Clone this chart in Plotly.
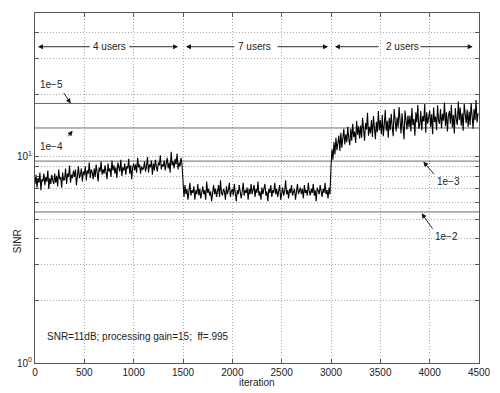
import math
import plotly.graph_objects as go

# ---------------- data ----------------
step = 10
seg1_sinr = [  # 4 users, iterations 0..1490
    7.4, 8.2, 7.1, 7.9, 7.5, 8.4, 6.9, 7.8, 7.6, 8.3,
    7.3, 8.0, 7.6, 8.6, 7.0, 7.9, 7.4, 8.2, 7.7, 7.4,
    8.3, 7.5, 8.1, 7.2, 8.7, 7.8, 8.0, 7.1, 8.4, 7.7,
    7.8, 8.8, 7.4, 8.3, 8.0, 9.1, 7.5, 8.2, 7.9, 8.6,
    8.0, 8.7, 7.3, 8.4, 9.0, 7.9, 8.2, 8.8, 7.6, 8.5,
    8.2, 9.0, 7.7, 8.6, 8.3, 9.4, 7.9, 8.7, 8.4, 7.8,
    8.8, 8.0, 9.2, 8.4, 7.6, 8.9, 8.5, 9.5, 8.2, 8.7,
    8.3, 9.1, 8.6, 7.8, 9.3, 8.5, 8.8, 8.0, 9.6, 8.6,
    9.1, 8.3, 8.9, 7.9, 9.4, 8.7, 8.5, 9.7, 8.1, 8.9,
    8.6, 9.3, 8.2, 9.0, 8.8, 9.8, 8.3, 9.1, 7.8, 8.9,
    9.3, 8.6, 9.2, 8.4, 9.9, 8.9, 9.2, 8.3, 9.0, 8.7,
    8.8, 9.5, 8.5, 9.0, 10.0, 8.4, 9.2, 8.9, 9.6, 8.2,
    9.3, 8.6, 9.7, 9.0, 8.5, 9.4, 9.1, 10.2, 8.7, 9.2,
    9.0, 9.6, 8.6, 9.3, 9.9, 8.8, 9.4, 8.4, 10.6, 9.1,
    9.5, 8.8, 9.8, 9.2, 10.4, 8.7, 9.4, 9.0, 9.9, 9.2,
]
seg2_sinr = [  # 7 users, iterations 1500..2990
    6.9, 6.4, 7.3, 6.6, 7.0, 6.2, 6.8, 7.5, 6.5, 6.9,
    6.7, 7.2, 6.2, 6.9, 6.6, 7.4, 6.5, 7.0, 6.3, 6.8,
    7.2, 6.6, 6.9, 6.2, 7.6, 6.7, 7.0, 6.5, 6.8, 6.1,
    6.9, 7.3, 6.6, 7.0, 6.4, 6.8, 7.3, 6.4, 7.7, 6.7,
    6.5, 7.0, 6.8, 6.2, 7.2, 6.6, 6.9, 7.5, 6.4, 6.8,
    7.0, 6.5, 7.4, 6.7, 6.1, 6.9, 6.6, 7.3, 6.8, 6.3,
    6.8, 7.5, 6.5, 6.9, 6.7, 7.1, 6.2, 7.0, 6.6, 7.4,
    6.6, 6.9, 7.3, 6.4, 7.0, 6.7, 7.6, 6.5, 6.8, 6.2,
    7.1, 6.6, 6.9, 7.4, 6.5, 6.8, 6.1, 7.0, 6.7, 7.3,
    6.4, 6.9, 6.7, 7.5, 6.6, 7.0, 6.4, 6.8, 7.3, 6.2,
    6.9, 7.1, 6.5, 6.8, 7.7, 6.6, 6.9, 6.3, 7.0, 6.7,
    7.3, 6.5, 6.8, 7.0, 6.2, 6.9, 7.4, 6.6, 6.8, 7.1,
    6.6, 7.0, 6.3, 7.3, 6.7, 6.9, 6.5, 7.5, 6.8, 6.5,
    7.0, 6.7, 7.4, 6.5, 6.9, 6.1, 7.1, 6.8, 6.6, 7.3,
    6.8, 6.4, 7.0, 6.7, 7.5, 6.6, 6.9, 6.3, 7.1, 6.6,
]
seg3_sinr = [  # 2 users, iterations 3000..4490
    9.0, 10.9, 9.7, 11.8, 10.3, 12.4, 10.8, 11.6, 12.7, 10.7,
    13.1, 11.1, 12.6, 13.7, 11.5, 12.9, 11.8, 14.0, 12.3, 11.4,
    13.7, 12.0, 14.5, 12.5, 13.3, 11.7, 15.0, 12.8, 14.1, 12.3,
    14.2, 12.4, 15.5, 13.1, 12.0, 14.6, 13.6, 16.4, 12.7, 14.0,
    13.0, 15.1, 12.5, 15.8, 13.9, 12.2, 14.8, 13.2, 16.7, 13.5,
    15.1, 12.9, 16.0, 12.6, 14.4, 16.9, 13.4, 15.0, 12.4, 15.5,
    13.5, 16.2, 14.1, 12.6, 17.1, 14.6, 13.3, 15.6, 13.9, 17.5,
    14.9, 13.0, 16.3, 14.2, 12.2, 16.8, 14.7, 13.6, 15.9, 14.0,
    15.9, 13.3, 17.3, 14.3, 15.3, 12.7, 16.5, 14.7, 17.9, 13.7,
    14.4, 16.7, 13.5, 15.8, 14.9, 18.1, 13.1, 16.5, 14.5, 15.5,
    16.8, 14.0, 16.1, 12.9, 17.4, 14.8, 15.7, 13.5, 17.8, 15.1,
    14.5, 17.1, 13.8, 16.2, 15.0, 18.4, 14.1, 16.5, 13.3, 15.9,
    16.7, 14.5, 17.9, 13.9, 16.0, 13.0, 17.3, 15.2, 14.3, 18.6,
    15.1, 17.4, 14.2, 16.3, 13.4, 18.1, 15.3, 14.6, 17.0, 14.0,
    16.6, 14.3, 18.3, 15.4, 13.7, 17.1, 15.1, 18.9, 14.7, 16.3,
]
seg_starts = [0, 1500, 3000]

ber_labels = ["1e\u22125", "1e\u22124", "1e\u22123", "1e\u22122"]
ber_sinr = [18.19, 13.83, 9.55, 5.41]

user_labels = ["4 users", "7 users", "2 users"]
user_text_x = [755, 2225, 3720]
user_span = [(30, 570, 940, 1450), (1530, 2037, 2443, 2970), (3040, 3497, 3892, 4436)]
user_y = 34.3

x_ticks = [0, 500, 1000, 1500, 2000, 2500, 3000, 3500, 4000, 4500]
y_ticks = [1, 2, 3, 4, 5, 6, 7, 8, 9, 10, 20, 30, 40, 50]
y_ticktext = ["10<sup>0</sup>", "", "", "", "", "", "", "", "", "10<sup>1</sup>", "", "", "", ""]

note_text = "SNR=11dB; processing gain=15;  ff=.995"

# ---------------- figure ----------------
x_all, y_all = [], []
for start, seg in zip(seg_starts, [seg1_sinr, seg2_sinr, seg3_sinr]):
    x_all += [start + i * step for i in range(len(seg))]
    y_all += seg

FONT = "Liberation Sans, Arial, Helvetica, sans-serif"
TXT = "#222222"

fig = go.Figure()
for v in ber_sinr:
    fig.add_trace(go.Scatter(x=[0, 4500], y=[v, v], mode="lines",
                             line=dict(color="#6a6a6a", width=1), hoverinfo="skip"))
fig.add_trace(go.Scatter(x=x_all, y=y_all, mode="lines",
                         line=dict(color="black", width=1.1), hoverinfo="skip"))

ann = []
L = math.log10
# user-count arrows
for lab, tx, (h1, t1, t2, h2) in zip(user_labels, user_text_x, user_span):
    ann.append(dict(x=tx, y=L(user_y), text=lab, showarrow=False,
                    font=dict(size=10, color=TXT, family=FONT)))
    ann.append(dict(x=h1, y=L(user_y), ax=t1, ay=L(user_y), axref="x", ayref="y",
                    text="", showarrow=True, arrowhead=2, arrowsize=1.1, arrowwidth=0.9,
                    arrowcolor="#111"))
    ann.append(dict(x=h2, y=L(user_y), ax=t2, ay=L(user_y), axref="x", ayref="y",
                    text="", showarrow=True, arrowhead=2, arrowsize=1.1, arrowwidth=0.9,
                    arrowcolor="#111"))

# BER labels with arrows (head on/near line, tail offset in px)
ber_text_pos = [(172, 22.4), (172, 11.2), (4186, 7.59), (4171, 4.10)]
ber_head = [(362, 18.2), (382, 13.4), (3936, 9.49), (3919, 5.33)]
ber_tail_px = [(-8, -12), (-6, 7), (12, 14), (12, 17)]
for lab, (tx, ty), (hx, hy), (dx, dy) in zip(ber_labels, ber_text_pos, ber_head, ber_tail_px):
    ann.append(dict(x=tx, y=L(ty), text=lab, showarrow=False,
                    font=dict(size=10, color=TXT, family=FONT)))
    ann.append(dict(x=hx, y=L(hy), ax=dx, ay=dy, text="", showarrow=True,
                    arrowhead=2, arrowsize=1.1, arrowwidth=0.9, arrowcolor="#111"))

ann.append(dict(x=101, y=L(1.35), text=note_text, showarrow=False, xanchor="left",
                font=dict(size=10, color=TXT, family=FONT)))
ann.append(dict(xref="paper", yref="paper", x=-0.056, y=0.347, text="SINR",
                textangle=-90, showarrow=False,
                font=dict(size=10, color=TXT, family=FONT)))
ann.append(dict(xref="paper", yref="paper", x=0.5, y=-0.057, text="iteration",
                showarrow=False, yanchor="middle",
                font=dict(size=10, color=TXT, family=FONT)))

axis_common = dict(showline=True, linecolor="#555", linewidth=1, mirror="ticks",
                   ticks="inside", tickcolor="#555", ticklen=4, automargin=False,
                   showgrid=True, gridcolor="#a8a8a8", griddash="1px,2px", gridwidth=1,
                   zeroline=False, tickfont=dict(size=10, color=TXT, family=FONT))

fig.update_layout(
    width=500, height=393,
    margin=dict(l=35, r=21, t=13, b=30),
    paper_bgcolor="white", plot_bgcolor="white",
    showlegend=False,
    annotations=ann,
    xaxis=dict(range=[0, 4500], tickvals=x_ticks, ticktext=[str(t) for t in x_ticks],
               **axis_common),
    yaxis=dict(type="log", range=[0, L(50)], tickvals=y_ticks, ticktext=y_ticktext,
               **axis_common),
)

fig.write_html("out.html", config={"displayModeBar": False},
               post_script="document.body.style.margin='0';document.body.style.padding='0';")
